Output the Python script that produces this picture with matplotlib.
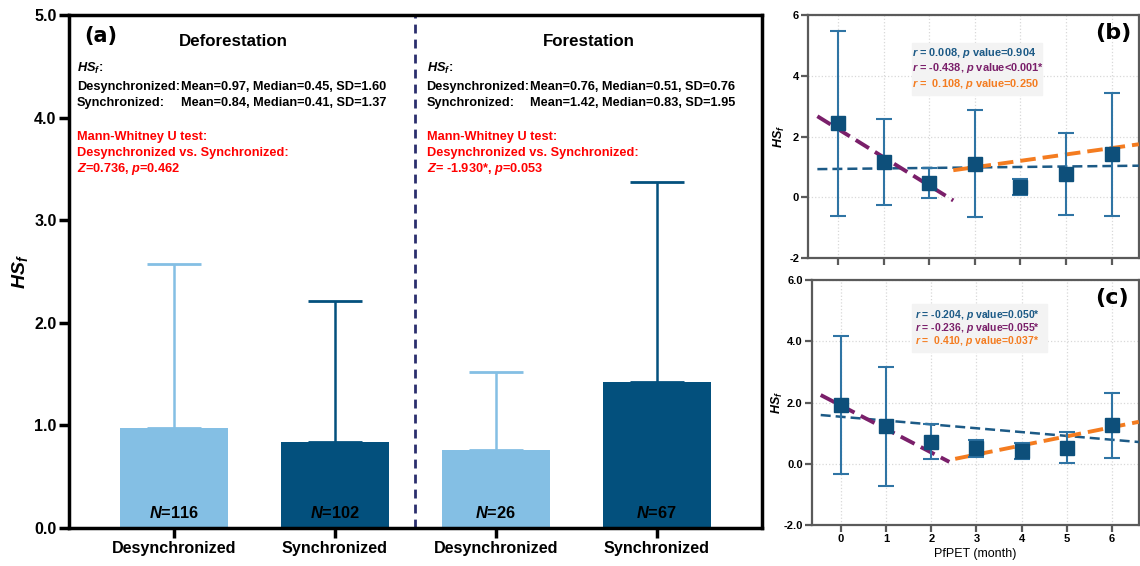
import numpy as np
import matplotlib
matplotlib.use("Agg")
import matplotlib.pyplot as plt
from matplotlib.patches import Rectangle

plt.rcParams['font.family'] = ['Liberation Sans', 'DejaVu Sans']
plt.rcParams['font.weight'] = 'bold'
plt.rcParams['mathtext.fontset'] = 'custom'
plt.rcParams['mathtext.it'] = 'Liberation Sans:italic:bold'
plt.rcParams['mathtext.rm'] = 'Liberation Sans:bold'
plt.rcParams['mathtext.bf'] = 'Liberation Sans:bold'

# ---- data: panel (a)
groups = ['Desynchronized', 'Synchronized', 'Desynchronized', 'Synchronized']
means = [0.97, 0.84, 0.76, 1.42]
sds = [1.60, 1.37, 0.76, 1.95]
ns = [116, 102, 26, 67]
medians = [0.45, 0.41, 0.51, 0.83]
z_vals = ['0.736', ' -1.930*']
p_vals = ['0.462', '0.053']

# ---- data: panel (b) deforestation by PfPET month
months = [0, 1, 2, 3, 4, 5, 6]
b_mean = [2.43, 1.16, 0.47, 1.11, 0.33, 0.78, 1.41]
b_err = [3.04, 1.42, 0.50, 1.75, 0.26, 1.35, 2.01]
# fitted lines: (intercept, slope, x start, x end)
b_fits = [(0.935, 0.016, -0.45, 6.6), (2.25, -0.93, -0.45, 2.53), (0.36, 0.21, 2.53, 6.6)]
b_stats = ['$r$ = 0.008, $p$ value=0.904',
           '$r$ = -0.438, $p$ value<0.001*',
           '$r$ =  0.108, $p$ value=0.250']

# ---- data: panel (c) forestation by PfPET month
c_mean = [1.91, 1.22, 0.72, 0.51, 0.42, 0.53, 1.25]
c_err = [2.25, 1.95, 0.57, 0.28, 0.27, 0.50, 1.05]
c_fits = [(1.535, -0.125, -0.45, 6.6), (1.90, -0.766, -0.45, 2.4), (-0.59, 0.297, 2.53, 6.6)]
c_stats = ['$r$ = -0.204, $p$ value=0.050*',
           '$r$ = -0.236, $p$ value=0.055*',
           '$r$ =  0.410, $p$ value=0.037*']

light = '#84BFE4'
dark = '#03507D'
fit_colors = ['#1C5A86', '#7A1F6A', '#F47C20']
fit_lw = [1.8, 2.8, 2.8]
fit_dash = [(4, 2), (4, 1.8), (4, 1.8)]

fig = plt.figure(figsize=(11.4, 5.66), dpi=100)

# ================= panel (a)
ax = fig.add_axes([0.0605, 0.0671, 0.6075, 0.9064])
xpos = np.arange(len(means))
cols = [light, dark, light, dark]
for i in range(len(means)):
    ax.bar(xpos[i], means[i], width=0.67, color=cols[i], zorder=2)
    ax.errorbar(xpos[i], means[i], yerr=[[0], [sds[i]]], color=cols[i], capsize=19.5,
                elinewidth=1.8, capthick=2, fmt='none', zorder=1)
    ax.text(xpos[i], 0.15, '$N$=%d' % ns[i], ha='center', va='center', fontsize=11.8)

ax.axvline(1.5, color='#2B2F6E', ls=(0, (3.2, 2.2)), lw=2)
ax.set_xlim(-0.65, 3.65)
ax.set_ylim(0, 5)
ax.set_yticks([0, 1, 2, 3, 4, 5])
ax.set_yticklabels(['0.0', '1.0', '2.0', '3.0', '4.0', '5.0'], fontsize=11.5)
ax.set_xticks(xpos)
ax.set_xticklabels(groups, fontsize=11.6)
ax.tick_params(axis='both', width=2.5, length=7, direction='out', pad=2)
for s in ax.spines.values():
    s.set_linewidth(2.5)
ax.set_ylabel('$HS_f$', fontsize=14)
ax.yaxis.set_label_coords(-0.056, 0.5)

ax.text(-0.555, 4.80, '(a)', family='DejaVu Sans', fontsize=15, fontweight='bold', va='center')
titles = ['Deforestation', 'Forestation']
for k, (tx, lx, cx) in enumerate([(0.37, -0.60, 0.043), (2.58, 1.57, 2.21)]):
    d, s = 2 * k, 2 * k + 1
    ax.text(tx, 4.74, titles[k], ha='center', va='center', fontsize=12.2)
    ax.text(lx, 4.48, '$HS_f$:', va='center', fontsize=9.2)
    ax.text(lx, 4.30, 'Desynchronized:', va='center', fontsize=9.2)
    ax.text(lx, 4.14, 'Synchronized:', va='center', fontsize=9.2)
    ax.text(cx, 4.30, 'Mean=%.2f, Median=%.2f, SD=%.2f' % (means[d], medians[d], sds[d]),
            va='center', fontsize=9.2)
    ax.text(cx, 4.14, 'Mean=%.2f, Median=%.2f, SD=%.2f' % (means[s], medians[s], sds[s]),
            va='center', fontsize=9.2)
    ax.text(lx, 3.81, 'Mann-Whitney U test:', va='center', fontsize=9.2, color='red')
    ax.text(lx, 3.655, 'Desynchronized vs. Synchronized:', va='center', fontsize=9.2, color='red')
    ax.text(lx, 3.50, '$Z$=%s, $p$=%s' % (z_vals[k], p_vals[k]),
            va='center', fontsize=9.2, color='red')


def trend_panel(ax, mean, err, fits, stats, label, ylabels, box, ys, lab_x, fs):
    ax.grid(True, color='#D8D8D8', ls=':', lw=0.9)
    ax.set_axisbelow(True)
    for (a, b, x0, x1), c, lw, ds in zip(fits, fit_colors, fit_lw, fit_dash):
        xx = np.array([x0, x1])
        ax.plot(xx, a + b * xx, color=c, lw=lw, ls=(0, ds), zorder=3)
    ax.errorbar(months, mean, yerr=err, fmt='s', color='#2F74A4', ecolor='#2F74A4',
                mfc='#0D4F7A', mec='#0D4F7A', ms=10, elinewidth=1.5, capsize=5.5,
                capthick=1.5, zorder=4)
    ax.set_xlim(-0.65, 6.6)
    ax.set_ylim(-2, 6)
    ax.set_xticks(months)
    ax.set_yticks([-2, 0, 2, 4, 6])
    ax.set_yticklabels(ylabels, fontsize=8)
    for s in ax.spines.values():
        s.set_linewidth(1.6)
        s.set_color('#5A5A5A')
    ax.tick_params(axis='both', width=1.6, length=5, color='#5A5A5A', pad=1.5)
    ax.set_ylabel('$HS_f$', fontsize=9)
    ax.yaxis.set_label_coords(lab_x, 0.5)
    ax.add_patch(Rectangle((box[0], box[1]), box[2], box[3], transform=ax.transAxes,
                           color='#F3F3F3', zorder=2))
    for t, c, y in zip(stats, fit_colors, ys):
        ax.text(1.63, y, t, color=c, fontsize=fs, va='center', zorder=5)
    ax.text(5.63, 5.4, label, family='DejaVu Sans', fontsize=16, fontweight='bold', va='center')


# ================= panel (b)
axb = fig.add_axes([0.709, 0.544, 0.29, 0.4295])
trend_panel(axb, b_mean, b_err, b_fits, b_stats, '(b)', ['-2', '0', '2', '4', '6'],
            (0.313, 0.671, 0.395, 0.214), [4.74, 4.24, 3.72], -0.064, 7.9)
axb.set_xticklabels([])

# ================= panel (c)
axc = fig.add_axes([0.712, 0.0724, 0.287, 0.4329])
trend_panel(axc, c_mean, c_err, c_fits, c_stats, '(c)', ['-2.0', '0.0', '2.0', '4.0', '6.0'],
            (0.308, 0.706, 0.41, 0.196), [4.85, 4.43, 4.01], -0.083, 7.5)
axc.set_xticklabels([str(m) for m in months], fontsize=8)
axc.set_xlabel('PfPET (month)', fontsize=9, labelpad=3)

fig.savefig('out.png', dpi=100)
